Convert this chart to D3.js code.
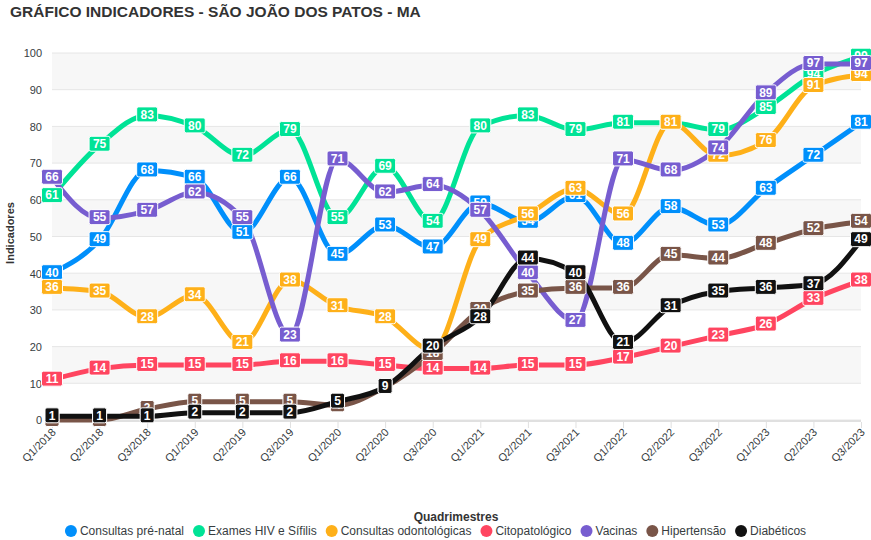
<!DOCTYPE html>
<html>
<head>
<meta charset="utf-8">
<script src="https://cdn.jsdelivr.net/npm/d3@7"></script>
<style>
body{margin:0;background:#fff;}
svg{font-family:Helvetica, Arial, "Liberation Sans", sans-serif;}
</style>
</head>
<body>
<svg id="chart" width="871" height="540"></svg>
<script>
const categories = ["Q1/2018","Q2/2018","Q3/2018","Q1/2019","Q2/2019","Q3/2019","Q1/2020","Q2/2020","Q3/2020","Q1/2021","Q2/2021","Q3/2021","Q1/2022","Q2/2022","Q3/2022","Q1/2023","Q2/2023","Q3/2023"];
const seriesNames = ["Consultas pré-natal","Exames HIV e Sífilis","Consultas odontológicas","Citopatológico","Vacinas","Hipertensão","Diabéticos"];
const preNatal     = [40,49,68,66,51,66,45,53,47,59,54,61,48,58,53,63,72,81];
const hivSifilis   = [61,75,83,80,72,79,55,69,54,80,83,79,81,81,79,85,94,99];
const odonto       = [36,35,28,34,21,38,31,28,19,49,56,63,56,81,72,76,91,94];
const citopato     = [11,14,15,15,15,16,16,15,14,14,15,15,17,20,23,26,33,38];
const vacinas      = [66,55,57,62,55,23,71,62,64,57,40,27,71,68,74,89,97,97];
const hipertensao  = [0,0,3,5,5,5,4,9,18,30,35,36,36,45,44,48,52,54];
const diabeticos   = [1,1,1,2,2,2,5,9,20,28,44,40,21,31,35,36,37,49];
const yTicks = [0,10,20,30,40,50,60,70,80,90,100];
const colors = ["#008FFB","#00E396","#FEB019","#FF4560","#775DD0","#795548","#111111"];

(function(){
const seriesValues = [preNatal,hivSifilis,odonto,citopato,vacinas,hipertensao,diabeticos];
const series = seriesNames.map((n,i)=>({name:n, values:seriesValues[i], color:colors[i]}));

const svg = d3.select("#chart");
const pLeft = 52, pRight = 861, pTop = 53, pBottom = 420;

const x = d3.scalePoint().domain(categories).range([pLeft,pRight]);
const y = d3.scaleLinear().domain([0,100]).range([pBottom,pTop]);

svg.append("text").attr("x",10).attr("y",17)
  .attr("font-size",15.5).attr("font-weight","bold").attr("fill","#333")
  .text("GRÁFICO INDICADORES - SÃO JOÃO DOS PATOS - MA");

const g = svg.append("g");
for(let i=0;i<yTicks.length-1;i++){
  if(i%2===1){
    g.append("rect").attr("x",pLeft).attr("width",pRight-pLeft)
      .attr("y",y(yTicks[i+1])).attr("height",y(yTicks[i])-y(yTicks[i+1]))
      .attr("fill","#f7f7f7");
  }
}
g.selectAll("line.grid").data(yTicks).join("line")
  .attr("x1",pLeft).attr("x2",pRight)
  .attr("y1",d=>y(d)).attr("y2",d=>y(d))
  .attr("stroke","#e6e6e6").attr("stroke-width",1);
g.append("line").attr("x1",pLeft).attr("x2",pRight).attr("y1",pBottom+1).attr("y2",pBottom+1)
  .attr("stroke","#e0e0e0").attr("stroke-width",2);

const yAxis = d3.axisLeft(y).tickValues(yTicks).tickSize(0).tickPadding(0);
const ya = svg.append("g").attr("transform",`translate(${pLeft-10},0)`).call(yAxis);
ya.select(".domain").remove();
ya.selectAll("text").attr("font-size",11).attr("fill","#373d3f")
  .attr("font-family","Helvetica, Arial, sans-serif").attr("dy","0.35em");

const xAxis = d3.axisBottom(x).tickSize(6).tickPadding(0);
const xa = svg.append("g").attr("transform",`translate(0,${pBottom+2})`).call(xAxis);
xa.select(".domain").remove();
xa.selectAll(".tick line").attr("stroke","#e0e0e0");
xa.selectAll("text").attr("font-size",11).attr("fill","#373d3f")
  .attr("font-family","Helvetica, Arial, sans-serif")
  .attr("text-anchor","end").attr("dy",0).attr("y",0)
  .attr("transform","translate(4,11) rotate(-45)");

svg.append("text").attr("transform","translate(14,233) rotate(-90)")
  .attr("text-anchor","middle").attr("font-size",11).attr("font-weight","bold").attr("fill","#333")
  .text("Indicadores");
svg.append("text").attr("x",456).attr("y",521)
  .attr("text-anchor","middle").attr("font-size",12).attr("font-weight","bold").attr("fill","#333")
  .text("Quadrimestres");

const line = d3.line().x((d,i)=>x(categories[i])).y(d=>y(d)).curve(d3.curveMonotoneX);
svg.append("g").selectAll("path").data(series).join("path")
  .attr("d",d=>line(d.values)).attr("fill","none")
  .attr("stroke",d=>d.color).attr("stroke-width",5).attr("stroke-linejoin","round");

const lg = svg.append("g");
series.forEach(s=>{
  s.values.forEach((v,i)=>{
    const cx = x(categories[i]), cy = y(v) - 1;
    const t = String(v);
    const w = t.length===1 ? 14 : (t.length===2 ? 21 : 28);
    const h = 15;
    lg.append("rect").attr("x",cx-w/2).attr("y",cy-h/2).attr("width",w).attr("height",h)
      .attr("rx",2).attr("fill",s.color).attr("stroke","#fff").attr("stroke-width",1);
    lg.append("text").attr("x",cx).attr("y",cy).attr("dy","0.36em")
      .attr("text-anchor","middle").attr("font-size",12).attr("font-weight","bold")
      .attr("fill","#fff").text(t);
  });
});

const leg = svg.append("g");
const items = [];
let totalW = 0;
const tmp = svg.append("text").attr("font-size",12);
series.forEach(s=>{
  tmp.text(s.name);
  const tw = tmp.node().getComputedTextLength();
  const w = 12 + 3 + tw + 9;
  items.push({s, w, tw});
  totalW += w;
});
tmp.remove();
let lx = 440 - totalW/2;
items.forEach(it=>{
  leg.append("circle").attr("cx",lx+6).attr("cy",531).attr("r",6).attr("fill",it.s.color);
  leg.append("text").attr("x",lx+15).attr("y",531).attr("dy","0.35em")
    .attr("font-size",12).attr("fill","#373d3f").text(it.s.name);
  lx += it.w;
});
})();
</script>
</body>
</html>
